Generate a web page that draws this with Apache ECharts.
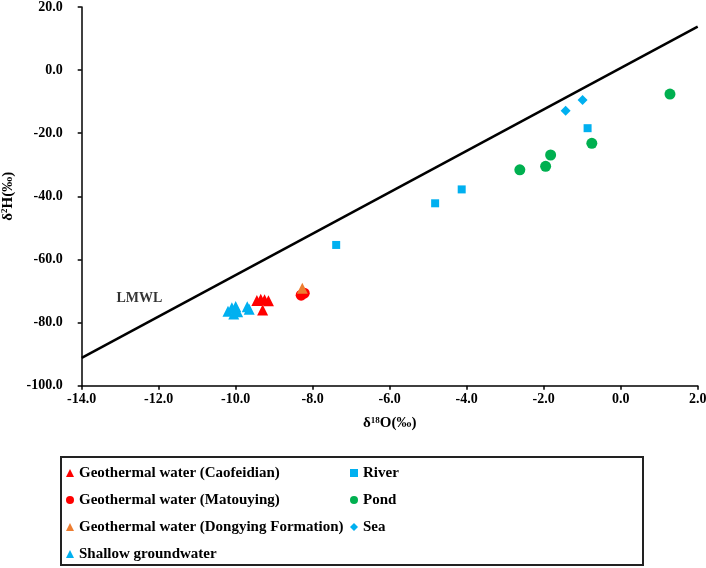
<!DOCTYPE html>
<html>
<head>
<meta charset="utf-8">
<script src="https://cdn.jsdelivr.net/npm/echarts@6/dist/echarts.min.js"></script>
<style>
  html, body { margin: 0; padding: 0; background: #fff; }
  #chart { width: 706px; height: 568px; }
</style>
</head>
<body>
<div id="chart"></div>
<script>
// 数据 (δ18O, δ2H)
var caofeidian = [[-9.45, -73.0], [-9.35, -72.6], [-9.25, -72.8], [-9.15, -73.1], [-9.3, -76.0]];
var matouying = [[-8.22, -70.7], [-8.3, -71.3]];
var dongying = [[-8.27, -69.1]];
var shallow = [[-10.2, -76.4], [-10.1, -75.3], [-10.0, -74.9], [-9.95, -76.6], [-10.05, -77.3], [-9.7, -75.0], [-9.65, -75.8]];
var river = [[-7.39, -55.4], [-4.82, -42.2], [-4.13, -37.8], [-0.86, -18.4]];
var pond = [[-2.62, -31.6], [-1.95, -30.5], [-1.82, -26.9], [-0.75, -23.2], [1.28, -7.6]];
var sea = [[-1.43, -12.9], [-0.99, -9.5]];
var lmwl = [[-14, -91.2], [2, 13.8]];
var lmwlLabel = [[-12.5, -72.2]];

var font = 'Liberation Serif';

var myChart = echarts.init(document.getElementById('chart'));

function pts(name, data, symbol, size, color) {
    return {
        name: name,
        type: 'scatter',
        data: data,
        symbol: symbol,
        symbolSize: size,
        itemStyle: { color: color, opacity: 1 },
        z: 3
    };
}

// 上标用 rich text
var nameRich = {
    n: { fontFamily: font, fontWeight: 'bold', fontSize: 15, color: '#000' },
    s: { fontFamily: font, fontWeight: 'bold', fontSize: 9, color: '#000', verticalAlign: 'top', padding: [0, 0, 6, 0] }
};

var legendText = { fontFamily: font, fontWeight: 'bold', fontSize: 15, color: '#000', lineHeight: 16 };

var option = {
    animation: false,
    backgroundColor: '#fff',
    textStyle: { fontFamily: font },
    grid: { left: 81.7, right: 8.3, top: 7, bottom: 182.3, outerBoundsMode: 'none', containLabel: false },
    xAxis: {
        type: 'value',
        min: -14, max: 2, interval: 2,
        name: '{n|δ}{s|18}{n|O(‰)}',
        nameLocation: 'middle',
        nameGap: 30,
        nameTextStyle: { rich: nameRich },
        axisLine: { onZero: false, lineStyle: { color: '#000', width: 1.5 } },
        axisTick: { inside: false, length: 4, lineStyle: { color: '#000', width: 1.5 } },
        axisLabel: {
            margin: 7,
            color: '#000', fontFamily: font, fontWeight: 'bold', fontSize: 14,
            formatter: function (v) { return v.toFixed(1); }
        },
        splitLine: { show: false }
    },
    yAxis: {
        type: 'value',
        min: -100, max: 20, interval: 20,
        name: '{n|δ}{s|2}{n|H(‰)}',
        nameLocation: 'middle',
        nameGap: 52,
        nameTextStyle: { rich: nameRich },
        axisLine: { onZero: false, lineStyle: { color: '#000', width: 1.5 } },
        axisTick: { inside: false, length: 4, lineStyle: { color: '#000', width: 1.5 } },
        axisLabel: {
            margin: 19,
            color: '#000', fontFamily: font, fontWeight: 'bold', fontSize: 14,
            formatter: function (v) { return v.toFixed(1); }
        },
        splitLine: { show: false }
    },
    legend: [
        {
            orient: 'vertical',
            left: 66, top: 465, height: 120, padding: 0,
            itemWidth: 8, itemHeight: 8, itemGap: 11,
            textStyle: legendText,
            data: ['Geothermal water (Caofeidian)', 'Geothermal water (Matouying)',
                   'Geothermal water (Dongying Formation)', 'Shallow groundwater']
        },
        {
            orient: 'vertical',
            left: 350, top: 465, height: 120, padding: 0,
            itemWidth: 8, itemHeight: 8, itemGap: 11,
            textStyle: legendText,
            data: ['River', 'Pond', 'Sea']
        }
    ],
    graphic: [{
        type: 'rect',
        shape: { x: 61, y: 457, width: 582, height: 108 },
        style: { fill: null, stroke: '#222', lineWidth: 2 }
    }],
    series: [
        {
            name: 'LMWL',
            type: 'line',
            data: lmwl,
            symbol: 'none',
            lineStyle: { color: '#000', width: 2.5 },
            z: 2
        },
        {
            name: 'LMWL label',
            type: 'scatter',
            data: lmwlLabel,
            symbolSize: 0,
            label: {
                show: true, position: 'inside',
                formatter: 'LMWL',
                fontFamily: font, fontWeight: 'bold', fontSize: 14, color: '#000'
            }
        },
        pts('Geothermal water (Caofeidian)', caofeidian, 'triangle', 11, '#ff0000'),
        pts('Geothermal water (Matouying)', matouying, 'circle', 11, '#ff0000'),
        pts('Geothermal water (Dongying Formation)', dongying, 'triangle', 11, '#ed7d31'),
        pts('Shallow groundwater', shallow, 'triangle', 11, '#00b0f0'),
        pts('River', river, 'rect', 8, '#00b0f0'),
        pts('Pond', pond, 'circle', 11, '#00b050'),
        pts('Sea', sea, 'diamond', 10, '#00b0f0')
    ]
};
myChart.setOption(option);
</script>
</body>
</html>
